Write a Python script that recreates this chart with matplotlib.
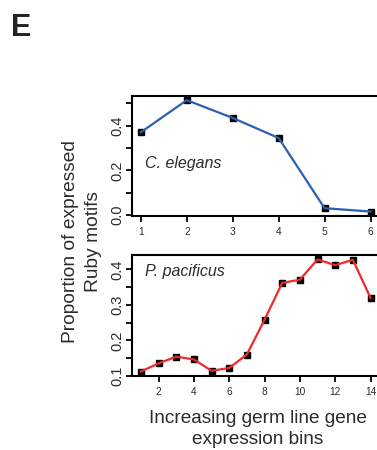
import numpy as np
import matplotlib
matplotlib.use("Agg")
import matplotlib.pyplot as plt

plt.rcParams['font.family'] = ['Liberation Sans', 'DejaVu Sans']

# Ruby motif proportion per germ line expression bin
ce_bins = [1, 2, 3, 4, 5, 6]
ce_prop = [0.371, 0.515, 0.435, 0.345, 0.030, 0.015]

pp_bins = list(range(1, 15))
pp_prop = [0.112, 0.135, 0.154, 0.146, 0.114, 0.122, 0.160,
           0.258, 0.362, 0.371, 0.428, 0.412, 0.427, 0.320]

ce_yticks = [0.0, 0.1, 0.2, 0.3, 0.4, 0.5]
ce_ylabels = ["0.0", "", "0.2", "", "0.4", ""]
pp_yticks = [0.10, 0.15, 0.20, 0.25, 0.30, 0.35, 0.40]
pp_ylabels = ["0.1", "", "0.2", "", "0.3", "", "0.4"]
pp_xticks = [2, 4, 6, 8, 10, 12, 14]

TXT = "#2b2b2b"


def r_limits(vals):
    # R style 4% padding on each side
    lo, hi = min(vals), max(vals)
    pad = (hi - lo) * 0.04
    return lo - pad, hi + pad


def style_axis(ax):
    for s in ax.spines.values():
        s.set_linewidth(1.5)
        s.set_color("black")
    ax.tick_params(axis="both", direction="out", width=1.3, length=4, color="black")
    ax.tick_params(axis="x", labelsize=7.3, pad=4, labelcolor=TXT)
    ax.tick_params(axis="y", labelsize=10.5, pad=1, labelcolor=TXT)
    for lab in ax.get_yticklabels():
        lab.set_rotation(90)
        lab.set_va("center")


fig = plt.figure(figsize=(3.77, 4.5), dpi=100)

W = 377.0
H = 450.0
left = 131.7 / W
# right edge runs just past the canvas
width = 248.0 / W

ax1 = fig.add_axes([left, 1 - 216 / H, width, 120.3 / H])
ax1.plot(ce_bins, ce_prop, color="#2b5fb4", lw=1.6, zorder=3)
ax1.plot(ce_bins, ce_prop, ls="none", marker="s", ms=4.5, color="black", zorder=2)
ax1.set_xlim(r_limits(ce_bins))
ax1.set_ylim(r_limits(ce_prop))
ax1.set_xticks(ce_bins)
ax1.set_yticks(ce_yticks)
ax1.set_yticklabels(ce_ylabels)
style_axis(ax1)
ax1.text(0.054, 0.44, "C. elegans", transform=ax1.transAxes, fontsize=11.5,
         style="italic", color=TXT, va="center", ha="left")

ax2 = fig.add_axes([left, 1 - 376 / H, width, 121 / H])
ax2.plot(pp_bins, pp_prop, color="#ee2a2a", lw=1.6, zorder=3)
ax2.plot(pp_bins, pp_prop, ls="none", marker="s", ms=4.5, color="black", zorder=2)
ax2.set_xlim(r_limits(pp_bins))
ax2.set_ylim(r_limits(pp_prop))
ax2.set_xticks(pp_xticks)
ax2.set_yticks(pp_yticks)
ax2.set_yticklabels(pp_ylabels)
style_axis(ax2)
ax2.text(0.054, 0.86, "P. pacificus", transform=ax2.transAxes, fontsize=11.5,
         style="italic", color=TXT, va="center", ha="left")

fig.text(82 / W, 1 - 242 / H, "Proportion of expressed\nRuby motifs", rotation=90,
         ha="center", va="center", multialignment="center", fontsize=13.8,
         color=TXT, linespacing=1.4)
fig.text(258 / W, 1 - 429 / H, "Increasing germ line gene\nexpression bins",
         ha="center", va="center", multialignment="center", fontsize=13.7,
         color=TXT, linespacing=1.3)
fig.text(11 / W, 1 - 36 / H, "E", fontsize=22, fontweight="bold", color="#222222",
         ha="left", va="baseline")

fig.savefig("out.png", dpi=100)
